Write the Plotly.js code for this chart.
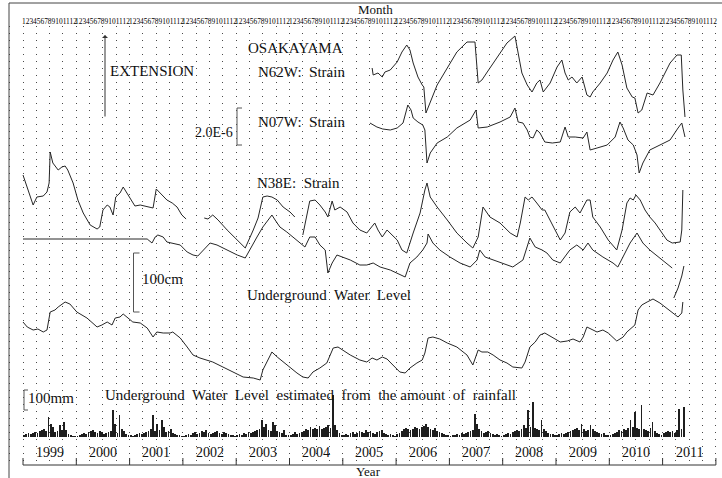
<!DOCTYPE html>
<html><head><meta charset="utf-8">
<script src="https://cdn.plot.ly/plotly-3.0.1.min.js"></script>
<style>html,body{margin:0;padding:0;background:#fff}#chart{width:722px;height:478px}</style>
</head><body><div id="chart"></div>
<script>
// ---------------- DATA ----------------
// time in decimal years; strain / water readings are relative heights in chart units
const years = [1999,2000,2001,2002,2003,2004,2005,2006,2007,2008,2009,2010,2011];
const months = [1,2,3,4,5,6,7,8,9,10,11,12];

const n62wYears = [2005.55,2005.57,2005.66,2005.74,2005.79,2005.89,2006.02,2006.11,2006.20,2006.26,2006.32,2006.41,2006.49,2006.52,2006.56,2006.64,2006.77,2006.96,2007.14,2007.33,2007.48,2007.54,2007.61,2007.71,2007.89,2008.08,2008.23,2008.29,2008.36,2008.46,2008.55,2008.64,2008.70,2008.76,2008.89,2009.02,2009.11,2009.17,2009.23,2009.30,2009.39,2009.49,2009.58,2009.64,2009.69,2009.83,2009.96,2010.07,2010.16,2010.24,2010.33,2010.43,2010.48,2010.54,2010.61,2010.71,2010.82,2010.95,2011.14,2011.27,2011.35,2011.38,2011.42];
const n62wStrain = [232,225,227,223,228,230,238,248,255,250,237,223,215,213,187,198,215,232,248,258,258,217,220,228,242,257,264,245,227,215,208,217,220,208,217,233,240,227,220,223,217,223,205,203,208,217,227,240,248,235,212,203,202,187,190,207,205,217,237,245,245,210,183];

const n07wYears = [2005.51,2005.64,2005.75,2005.89,2006.02,2006.13,2006.22,2006.28,2006.32,2006.41,2006.50,2006.54,2006.58,2006.64,2006.77,2006.96,2007.14,2007.39,2007.50,2007.54,2007.71,2007.95,2008.14,2008.23,2008.29,2008.38,2008.46,2008.51,2008.57,2008.64,2008.70,2008.79,2008.93,2009.08,2009.17,2009.23,2009.36,2009.51,2009.58,2009.64,2009.77,2009.96,2010.11,2010.20,2010.26,2010.35,2010.45,2010.52,2010.56,2010.63,2010.76,2010.95,2011.14,2011.29,2011.36,2011.42];
const n07wStrain = [177,173,171,170,172,177,195,190,182,178,175,170,137,147,157,163,172,180,190,172,173,178,183,192,178,177,170,163,162,170,167,158,157,158,173,163,163,162,168,150,152,155,163,178,172,160,155,145,127,137,150,155,160,172,177,163];

const n38eYears = [1999.00,1999.19,1999.26,1999.38,1999.45,1999.49,1999.51,1999.56,1999.66,1999.73,1999.79,1999.84,1999.94,2000.03,2000.13,2000.26,2000.39,2000.44,2000.50,2000.58,2000.63,2000.69,2000.74,2000.82,2000.88,2000.95,2001.05,2001.10,2001.20,2001.33,2001.44,2001.50,2001.57,2001.70,2001.80,2001.89,2001.98,2002.06,
 null,
 2002.40,2002.47,2002.56,2002.66,2002.83,2003.02,2003.17,2003.32,2003.41,2003.50,2003.58,2003.67,2003.77,2003.88,2004.01,2004.10,
 null,
 2004.25,2004.38,2004.48,2004.57,2004.67,2004.72,2004.80,2004.85,2004.95,2005.08,2005.19,2005.32,2005.45,2005.55,2005.60,2005.66,2005.74,2005.83,2005.92,2006.02,2006.11,2006.20,2006.32,2006.45,2006.54,2006.58,2006.64,2006.77,2006.96,2007.14,2007.33,2007.44,2007.54,2007.63,2007.76,2007.95,2008.14,2008.27,2008.33,2008.42,2008.48,2008.55,2008.64,2008.74,2008.79,2008.89,2008.98,2009.08,2009.17,2009.26,2009.36,2009.45,2009.58,2009.64,2009.69,2009.83,2009.98,2010.14,2010.24,2010.33,2010.39,2010.45,2010.50,2010.58,2010.67,2010.76,2010.86,2010.95,2011.08,2011.18,2011.33,2011.36,2011.38];
const n38eStrain = [125,95,103,104,108,117,148,137,130,133,134,130,117,100,87,75,71,73,90,95,93,85,103,107,113,107,98,94,95,93,92,111,107,100,97,93,85,81,
 null,
 82,81,85,80,70,60,52,70,82,103,104,103,100,93,88,83,
 null,
 65,99,100,95,88,83,99,90,93,88,77,70,67,73,77,70,63,70,65,60,50,47,67,87,110,117,103,93,80,67,57,52,63,93,83,77,67,63,77,103,100,103,97,90,90,80,70,60,67,88,93,87,100,100,83,73,60,50,70,97,102,100,105,100,90,83,77,70,60,57,58,70,110];

const waterYears = [1999.00,2001.33,2001.42,2001.48,2001.53,2001.63,2001.70,2001.81,2001.95,2002.08,2002.19,2002.28,2002.38,2002.51,2002.64,2002.83,2003.02,2003.17,2003.26,2003.39,2003.50,2003.60,2003.67,2003.73,2003.82,2003.95,2004.07,2004.20,2004.29,2004.38,2004.48,2004.57,2004.67,2004.72,2004.80,2004.89,2005.00,2005.14,2005.32,2005.45,2005.57,2005.70,2005.89,2006.07,2006.17,2006.26,2006.39,2006.50,2006.58,2006.60,2006.69,2006.82,2007.01,2007.20,2007.39,2007.52,2007.57,2007.67,2007.82,2008.01,2008.19,2008.38,2008.51,2008.61,2008.74,2008.83,2008.94,2009.08,2009.26,2009.39,2009.51,2009.60,2009.69,2009.88,2010.07,2010.16,2010.26,2010.39,2010.52,2010.63,2010.76,2010.95,2011.18,
 null,
 2011.21,2011.29,2011.36,2011.40];
const waterLevel = [161,161,157,163,165,163,158,157,155,148,145,144,150,157,155,150,145,142,150,163,173,180,185,180,173,168,163,157,153,163,163,155,150,127,137,145,143,140,135,135,137,133,130,125,123,137,143,150,157,166,157,150,143,137,133,140,150,143,140,137,133,140,162,153,150,147,140,137,150,155,150,157,150,143,137,133,143,157,167,157,150,142,132,
 null,
 102,112,124,134];

const estYears = [1999.00,1999.08,1999.19,1999.28,1999.38,1999.45,1999.51,1999.60,1999.66,1999.79,1999.88,2000.01,2000.20,2000.39,2000.48,2000.58,2000.67,2000.73,2000.82,2000.88,2000.97,2001.06,2001.20,2001.33,2001.44,2001.51,2001.63,2001.76,2001.81,2001.95,2002.08,2002.19,2002.32,2002.45,2002.56,2002.75,2002.94,2003.13,2003.32,2003.45,2003.50,2003.58,2003.67,2003.77,2003.88,2004.01,2004.14,2004.25,2004.35,2004.44,2004.57,2004.70,2004.82,2004.91,2005.00,2005.14,2005.32,2005.45,2005.55,2005.64,2005.74,2005.83,2005.94,2006.07,2006.17,2006.26,2006.39,2006.49,2006.54,2006.60,2006.69,2006.82,2006.96,2007.14,2007.33,2007.44,2007.54,2007.61,2007.72,2007.82,2007.95,2008.08,2008.19,2008.36,2008.42,2008.51,2008.61,2008.70,2008.79,2008.93,2009.08,2009.21,2009.32,2009.45,2009.51,2009.58,2009.68,2009.77,2009.88,2009.98,2010.14,2010.26,2010.33,2010.43,2010.48,2010.54,2010.61,2010.71,2010.82,2010.95,2011.08,2011.20,2011.29,2011.36,2011.38];
const estWaterLevel = [78,73,70,71,68,70,88,90,93,98,96,88,82,73,75,78,75,82,83,86,82,78,77,72,63,68,67,67,68,62,53,45,42,40,38,33,28,23,22,20,30,38,48,43,38,33,27,23,22,28,32,37,52,53,50,45,40,38,42,40,43,41,35,28,27,32,37,40,47,62,63,61,57,53,45,35,50,48,48,45,40,37,33,32,38,53,58,65,67,63,58,59,61,58,63,73,70,68,70,67,59,63,68,73,75,90,95,98,101,97,92,87,83,87,98];

// rainfall (mm), half-monthly totals, 24 per year
const rain1999 = [10,15,20,15,20,25,20,30,35,40,30,100,65,50,25,30,60,35,75,35,15,10,5,5];
const rain2000 = [5,10,15,20,15,25,30,35,25,20,30,25,15,20,25,30,135,65,20,110,40,30,15,10];
const rain2001 = [10,5,10,15,20,15,20,25,30,40,110,30,65,35,85,50,25,30,40,20,15,10,10,5];
const rain2002 = [5,10,15,10,20,25,15,20,30,25,35,20,15,20,25,30,20,15,25,20,15,10,10,5];
const rain2003 = [10,15,10,20,15,25,20,25,30,35,40,85,50,65,35,30,75,60,30,25,20,35,10,10];
const rain2004 = [10,15,25,15,20,25,30,40,35,50,40,45,40,55,40,45,50,60,45,210,60,35,20,10];
const rain2005 = [10,15,10,20,25,15,20,30,25,20,35,25,30,20,15,25,30,35,20,15,10,15,10,5];
const rain2006 = [15,20,30,40,45,40,35,40,50,45,40,50,55,65,50,40,35,45,30,25,20,15,10,10];
const rain2007 = [5,10,10,15,10,20,15,20,25,30,35,115,65,40,30,20,25,30,20,15,10,15,10,5];
const rain2008 = [10,15,20,15,25,30,35,30,40,60,45,135,50,175,45,40,35,85,40,30,20,15,15,10];
const rain2009 = [10,15,20,15,20,25,30,35,40,45,35,65,40,30,35,60,40,30,25,20,15,20,10,10];
const rain2010 = [10,15,20,25,35,30,40,35,45,85,50,125,45,40,160,40,35,30,45,75,30,20,15,10];
const rain2011 = [20,25,30,25,30,20,35,140,40,150];

// ---------------- LAYOUT / PLACEMENT ----------------
const W = 722, H = 478;
const X0PX = 23, PX_PER_YEAR = 53.3;
const PLOT_TOP = 26, PLOT_BOTTOM = 465;
const STRAIN_REF = 300, WATER_REF = 400;   // vertical placement of each group
const RAIN_BASE_PX = 437, RAIN_PX_PER_MM = 0.2;
const AXIS_PX = 465;
const FRAME_TOP = 3;
const INK = '#262626';
const SERIF = 'Liberation Serif, Times New Roman, serif';

const xp = px => px / W;
const yp = py => 1 - py / H;
const xRange = [1999 - X0PX / PX_PER_YEAR, 1999 + (W - X0PX) / PX_PER_YEAR];

const place = (vals, ref) => vals.map(v => v === null ? null : ref - v);

function lineTrace(x, y) {
  return {type: 'scatter', mode: 'lines', x: x, y: y, xaxis: 'x', yaxis: 'y',
          line: {color: INK, width: 1}, hoverinfo: 'skip', showlegend: false, connectgaps: false};
}

const rainByYear = [rain1999, rain2000, rain2001, rain2002, rain2003, rain2004, rain2005,
                    rain2006, rain2007, rain2008, rain2009, rain2010, rain2011];
const rainX = [], rainY = [];
rainByYear.forEach((arr, k) => arr.forEach((v, i) => { rainX.push(years[k] + (i + 0.5) / 24); rainY.push(v); }));

const traces = [
  lineTrace(n62wYears, place(n62wStrain, STRAIN_REF)),
  lineTrace(n07wYears, place(n07wStrain, STRAIN_REF)),
  lineTrace(n38eYears, place(n38eStrain, STRAIN_REF)),
  lineTrace(waterYears, place(waterLevel, WATER_REF)),
  lineTrace(estYears, place(estWaterLevel, WATER_REF)),
  {type: 'bar', x: rainX, y: rainY, xaxis: 'x', yaxis: 'y2', width: 0.8 / 24,
   marker: {color: '#1e1e1e', line: {width: 0}}, hoverinfo: 'skip', showlegend: false}
];

const domTop = 1 - PLOT_TOP / H, domBot = 1 - PLOT_BOTTOM / H;
const domPx = PLOT_BOTTOM - PLOT_TOP;
const rainLo = -(PLOT_BOTTOM - RAIN_BASE_PX) / RAIN_PX_PER_MM;
const rainHi = rainLo + domPx / RAIN_PX_PER_MM;

const ann = [];
function txt(text, cx, cy, size, extra) {
  ann.push(Object.assign({text: text, xref: 'paper', yref: 'paper', x: xp(cx), y: yp(cy),
    xanchor: 'center', yanchor: 'middle', showarrow: false,
    font: {family: SERIF, size: size, color: '#111'}}, extra || {}));
}
txt('Month', 375, 9, 13);
const monthLabel = months.join('');
years.forEach(yr => {
  ann.push({text: monthLabel, xref: 'x', yref: 'paper', x: yr + 0.5, y: yp(22), xanchor: 'center', yanchor: 'middle',
            showarrow: false, font: {family: SERIF, size: 7.4, color: '#000'}});
  ann.push({text: String(yr), xref: 'x', yref: 'paper', x: yr + 0.5, y: yp(452), xanchor: 'center', yanchor: 'middle',
            showarrow: false, font: {family: SERIF, size: 14, color: '#111'}});
});
txt('Year', 368, 471, 13);
txt('OSAKAYAMA', 295, 48, 15);
txt('EXTENSION', 152, 71, 15);
txt('N62W:  Strain', 301, 72, 15);
txt('2.0E-6', 214, 133, 14);
txt('N07W:  Strain', 301, 122, 15);
txt('N38E:  Strain', 298, 183, 15);
txt('100cm', 162, 279, 15);
txt('Underground  Water  Level', 329, 295, 15);
txt('100mm', 51, 398, 15);
txt('Underground  Water  Level  estimated  from  the amount  of  rainfall', 310, 395, 15);
// extension arrow
ann.push({text: '', xref: 'paper', yref: 'paper', x: xp(105), y: yp(35), ax: 0, ay: 83,
          showarrow: true, arrowhead: 1, arrowsize: 1, arrowwidth: 1, arrowcolor: '#333'});

const shapes = [];
const pline = (x0, y0, x1, y1, color, w) => shapes.push({type: 'line', xref: 'paper', yref: 'paper',
  x0: xp(x0), y0: yp(y0), x1: xp(x1), y1: yp(y1), line: {color: color || '#333', width: w || 1}});
function bracket(x, yTop, yBot, tick) {
  pline(x, yTop, x, yBot, '#555'); pline(x, yTop, x + tick, yTop, '#555'); pline(x, yBot, x + tick, yBot, '#555');
}
// frame
pline(9, FRAME_TOP, W, FRAME_TOP, '#444'); pline(9, FRAME_TOP, 9, H, '#444');
// scale brackets
bracket(237, 108, 145, 5);
bracket(133.5, 253, 312, 6);
bracket(24, 390, 410, 4);
// bottom time axis
shapes.push({type: 'line', xref: 'x', yref: 'paper', x0: years[0], x1: years[years.length - 1] + 1,
             y0: yp(AXIS_PX), y1: yp(AXIS_PX), line: {color: '#333', width: 1}});
years.concat([years[years.length - 1] + 1]).forEach(yr => shapes.push({type: 'line', xref: 'x', yref: 'paper',
  x0: yr, x1: yr, y0: yp(AXIS_PX - 7), y1: yp(AXIS_PX), line: {color: '#333', width: 1}}));

const layout = {
  width: W, height: H, margin: {l: 0, r: 0, t: 0, b: 0, pad: 0},
  paper_bgcolor: '#fff', plot_bgcolor: '#fff', showlegend: false, bargap: 0,
  xaxis: {range: xRange, domain: [0, 1], showgrid: true, tick0: 1999, dtick: 0.25,
          gridcolor: '#4a4a4a', gridwidth: 1, griddash: '1px,6px', showticklabels: false, ticks: '',
          zeroline: false, showline: false, fixedrange: true},
  yaxis: {range: [PLOT_BOTTOM, PLOT_TOP], domain: [domBot, domTop], visible: false, showgrid: false, zeroline: false},
  yaxis2: {range: [rainLo, rainHi], domain: [domBot, domTop], overlaying: 'y', visible: false, showgrid: false, zeroline: false},
  annotations: ann, shapes: shapes
};
Plotly.newPlot('chart', traces, layout, {staticPlot: true, displayModeBar: false});
</script></body></html>
